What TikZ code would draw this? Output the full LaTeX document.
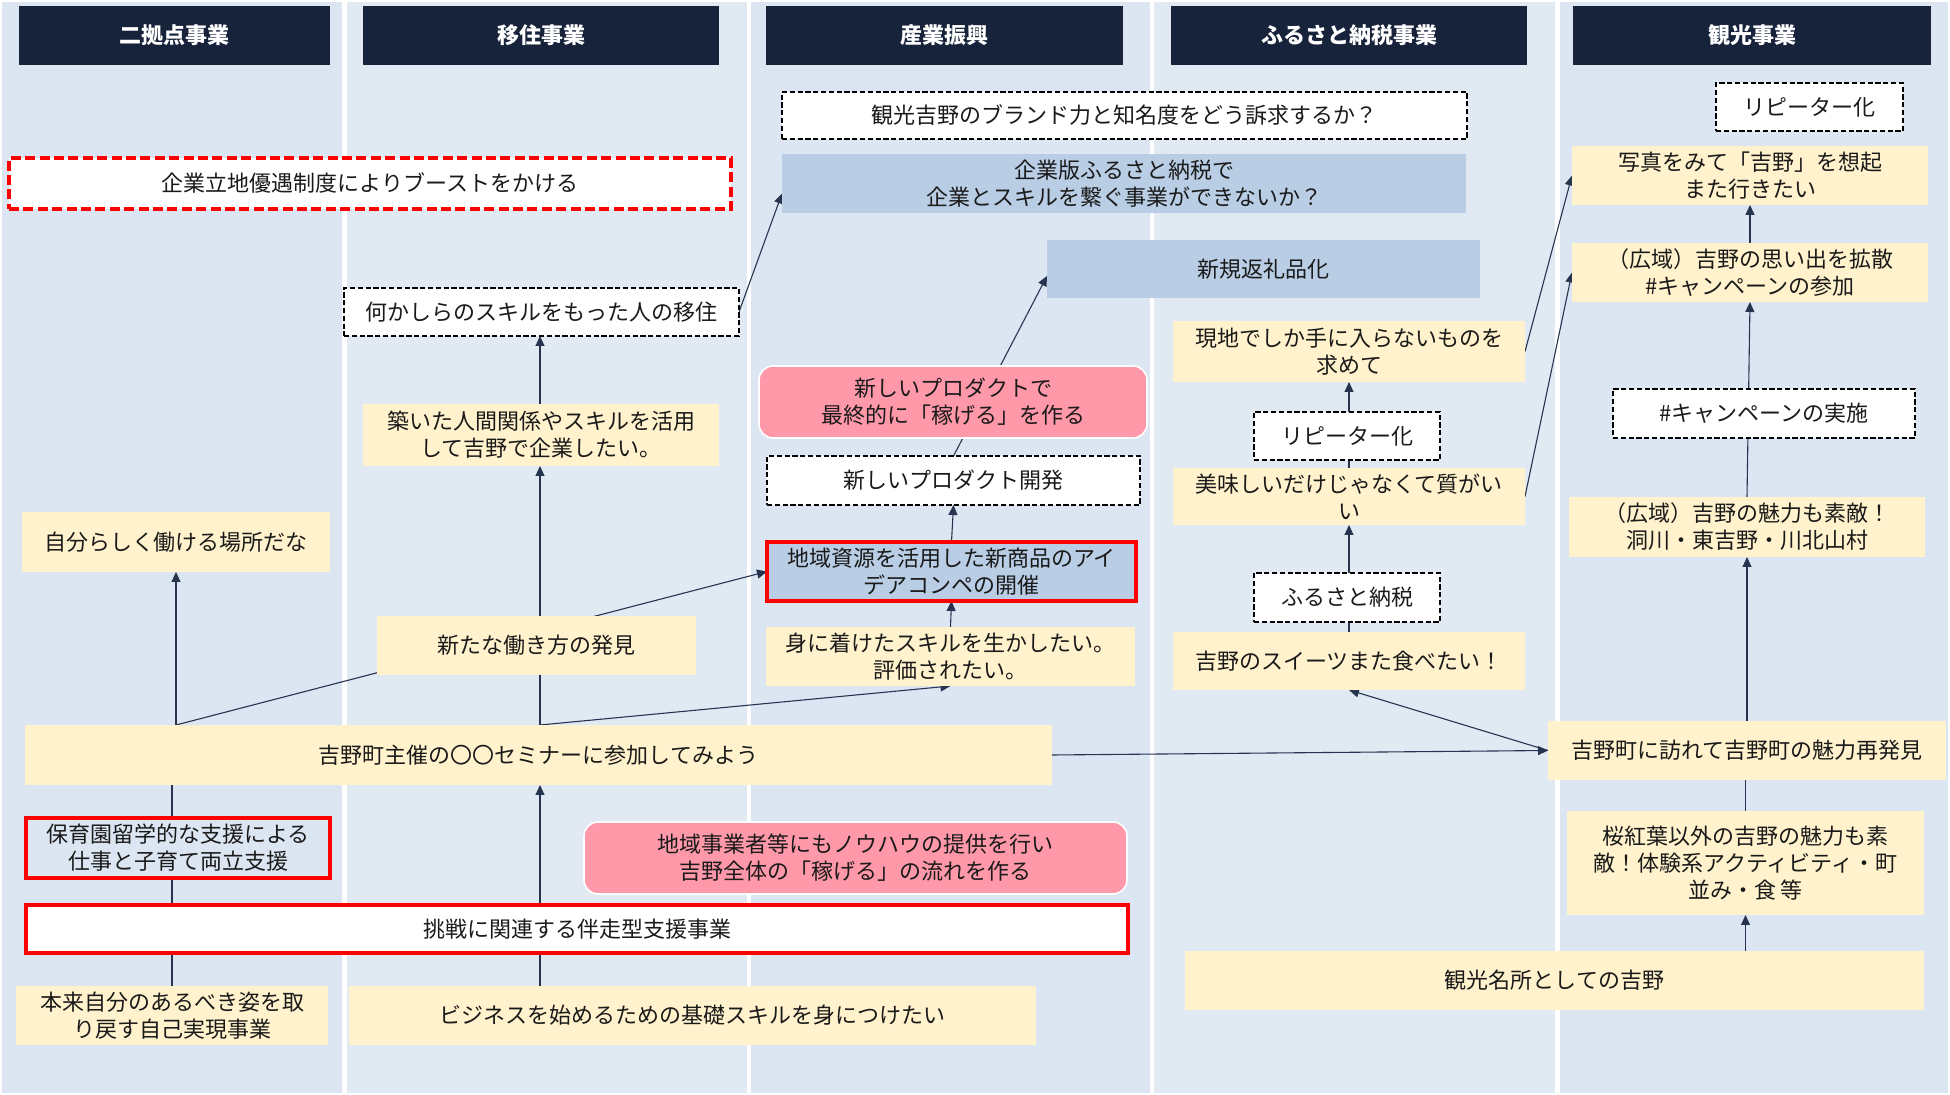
\documentclass[tikz,border=0pt]{standalone}
\usepackage{fontspec}
\newfontfamily\jpfont{Noto Sans CJK JP}
\usetikzlibrary{arrows.meta,calc}
\definecolor{hdrc}{HTML}{16233B}
\definecolor{laneA}{HTML}{DCE6F2}
\definecolor{laneB}{HTML}{E1E9F3}
\definecolor{yelc}{HTML}{FFF2CC}
\definecolor{bluc}{HTML}{B9CDE5}
\definecolor{pinkc}{HTML}{FF99AA}
\definecolor{arrc}{HTML}{26344F}
\definecolor{txtc}{HTML}{1A1A1A}
\pgfdeclarelayer{lanes}
\pgfdeclarelayer{edges}
\pgfsetlayers{lanes,edges,main}
\newcommand{\bx}[7]{\node[#1, minimum width={(#5-#3)*0.5pt}, minimum height={(#6-#4)*0.5pt}] (#2) at ({(#3+#5)/2},{(#4+#6)/2}) {#7};}
\begin{document}
\begin{tikzpicture}[x=0.5pt,y=-0.5pt,
  base/.style={inner sep=0pt, outer sep=0pt, align=center, text=txtc, font=\jpfont\fontsize{11}{13.5}\selectfont},
  yel/.style={base, fill=yelc},
  blu/.style={base, fill=bluc},
  dsh/.style={base, fill=white, draw=black, line width=1.1pt, dash pattern=on 2.6pt off 1.3pt},
  rdsh/.style={base, fill=white, draw=red, line width=1.9pt, dash pattern=on 5pt off 2.2pt},
  rbox/.style={base, draw=red, line width=2pt},
  pinkbox/.style={base, fill=pinkc, draw=white, line width=0.8pt, rounded corners=7pt},
  hdr/.style={inner sep=0pt, fill=hdrc, text=white, font=\jpfont\bfseries\fontsize{11}{13}\selectfont},
  arr/.style={-{Triangle[length=5pt,width=4.5pt]}, line width=0.55pt, draw=arrc},
  ln/.style={line width=0.55pt, draw=arrc}]
\useasboundingbox (0,0) rectangle (1950,1095);
\begin{pgfonlayer}{lanes}
\fill[white] (0,0) rectangle (1950,1095);
\fill[laneA] (2,2) rectangle (342,1093);
\fill[laneB] (347,2) rectangle (747,1093);
\fill[laneA] (751,2) rectangle (1150,1093);
\fill[laneB] (1154,2) rectangle (1555,1093);
\fill[laneA] (1560,2) rectangle (1948,1093);
\end{pgfonlayer}
% headers
\bx{hdr}{h1}{19}{6}{330}{65}{二拠点事業}
\bx{hdr}{h2}{363}{6}{719}{65}{移住事業}
\bx{hdr}{h3}{766}{6}{1123}{65}{産業振興}
\bx{hdr}{h4}{1171}{6}{1527}{65}{ふるさと納税事業}
\bx{hdr}{h5}{1573}{6}{1931}{65}{観光事業}
% left lanes
\bx{rdsh}{n1}{9}{158}{731}{209}{企業立地優遇制度によりブーストをかける}
\bx{dsh}{n2}{344}{288}{739}{336}{何かしらのスキルをもった人の移住}
\bx{yel}{n3}{363}{404}{719}{466}{築いた人間関係やスキルを活用\\して吉野で企業したい。}
\bx{yel}{n4}{22}{512}{330}{572}{自分らしく働ける場所だな}
\bx{yel}{n5}{377}{616}{696}{675}{新たな働き方の発見}
\bx{yel}{n6}{25}{725}{1052}{785}{吉野町主催の〇〇セミナーに参加してみよう}
\bx{rbox,fill=laneA}{n7}{26}{818}{330}{878}{保育園留学的な支援による\\仕事と子育て両立支援}
\bx{rbox,fill=white}{n8}{26}{905}{1128}{953}{挑戦に関連する伴走型支援事業}
\bx{yel}{n9}{16}{986}{328}{1045}{本来自分のあるべき姿を取\\り戻す自己実現事業}
\bx{yel}{n10}{349}{986}{1036}{1045}{ビジネスを始めるための基礎スキルを身につけたい}
\bx{pinkbox}{n11}{584}{822}{1127}{894}{地域事業者等にもノウハウの提供を行い\\吉野全体の「稼げる」の流れを作る}
% middle lane
\bx{dsh}{n12}{782}{92}{1467}{139}{観光吉野のブランド力と知名度をどう訴求するか？}
\bx{blu}{n13}{782}{154}{1466}{213}{企業版ふるさと納税で\\企業とスキルを繋ぐ事業ができないか？}
\bx{blu}{n14}{1047}{240}{1480}{298}{新規返礼品化}
\bx{pinkbox}{n15}{759}{366}{1147}{438}{新しいプロダクトで\\最終的に「稼げる」を作る}
\bx{dsh}{n16}{767}{456}{1140}{505}{新しいプロダクト開発}
\bx{rbox,fill=bluc}{n17}{767}{542}{1136}{601}{地域資源を活用した新商品のアイ\\デアコンペの開催}
\bx{yel}{n18}{766}{627}{1135}{686}{身に着けたスキルを生かしたい。\\評価されたい。}
% furusato lane
\bx{yel}{n19}{1173}{321}{1525}{382}{現地でしか手に入らないものを\\求めて}
\bx{dsh}{n20}{1254}{412}{1440}{460}{リピーター化}
\bx{yel}{n21}{1173}{468}{1525}{525}{美味しいだけじゃなくて質がい\\い}
\bx{dsh}{n22}{1254}{573}{1440}{622}{ふるさと納税}
\bx{yel}{n23}{1173}{632}{1525}{690}{吉野のスイーツまた食べたい！}
% tourism lane
\bx{dsh}{n24}{1716}{83}{1903}{131}{リピーター化}
\bx{yel}{n25}{1572}{146}{1928}{205}{写真をみて「吉野」を想起\\また行きたい}
\bx{yel}{n26}{1572}{243}{1928}{302}{（広域）吉野の思い出を拡散\\\#キャンペーンの参加}
\bx{dsh}{n27}{1613}{389}{1915}{438}{\#キャンペーンの実施}
\bx{yel}{n28}{1569}{497}{1925}{557}{（広域）吉野の魅力も素敵！\\洞川・東吉野・川北山村}
\bx{yel}{n29}{1548}{721}{1946}{780}{吉野町に訪れて吉野町の魅力再発見}
\bx{yel}{n30}{1567}{811}{1924}{915}{桜紅葉以外の吉野の魅力も素\\敵！体験系アクティビティ・町\\並み・食 等}
\bx{yel}{n31}{1185}{951}{1924}{1010}{観光名所としての吉野}
\coordinate (vx) at (540,0);
\begin{pgfonlayer}{edges}
% left
\draw[ln] (n9.north) -- (n6.south -| n9.north);
\draw[arr] (n10.north -| vx) -- (n6.south -| vx);
\draw[arr] (n6.north -| n4.south) -- (n4.south);
\draw[arr] (n6.north -| n4.south) -- (n17.west);
\draw[arr] (n6.north -| vx) -- (n3.south -| vx);
\draw[arr] (n3.north -| vx) -- (n2.south -| vx);
\draw[arr] (n6.north -| vx) -- (n18.south);
\draw[arr] (n2.east) -- ([yshift=-5pt]n13.west);
\draw[arr] (n6.east) -- (n29.west);
% industry
\draw[arr] (n18.north) -- (n17.south);
\draw[arr] (n17.north) -- (n16.south);
\draw[arr] (n16.north) -- ([yshift=-3.5pt]n14.west);
% furusato
\draw[arr] (n29.west) -- (n23.south);
\draw[arr] (n23.north) -- (n21.south);
\draw[arr] (n21.north) -- (n19.south);
\draw[arr] (n19.east) -- (n25.west);
\draw[arr] (n21.east) -- (n26.west);
% tourism
\draw[arr] (n26.north) -- (n25.south);
\draw[arr] (n28.north) -- (n26.south);
\draw[arr] (n29.north) -- (n28.south);
\draw[ln] (n30.north) -- (n29.south -| n30.north);
\draw[arr] (n31.north -| n30.south) -- (n30.south);
\end{pgfonlayer}
\end{tikzpicture}
\end{document}
